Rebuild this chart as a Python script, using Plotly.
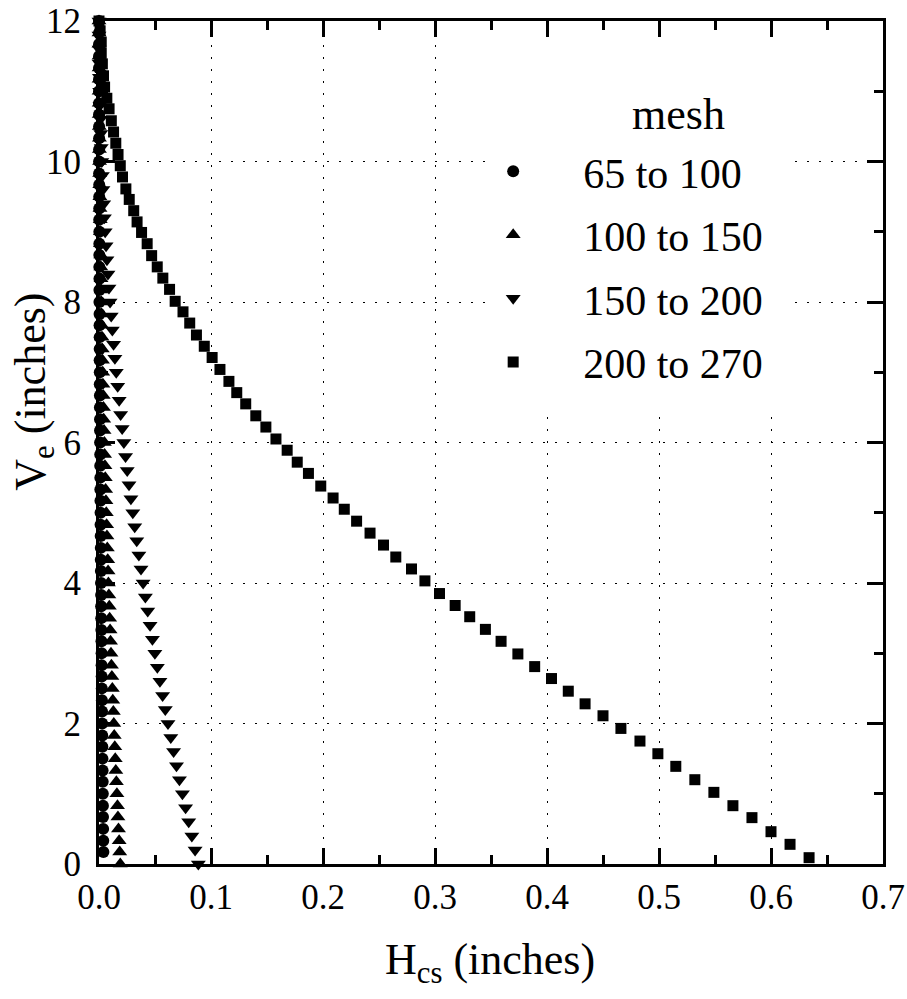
import plotly.graph_objects as go

# ---------------- data ----------------
circ_V = [0.17,0.33,0.50,0.67,0.83,1.00,1.17,1.33,1.50,1.67,1.83,2.00,2.17,2.33,2.50,2.67,2.83,3.00,
          3.17,3.33,3.50,3.67,3.83,4.00,4.17,4.33,4.50,4.67,4.83,5.00,5.17,5.33,5.50,5.67,5.83,6.00,
          6.17,6.33,6.50,6.67,6.83,7.00,7.17,7.33,7.50,7.67,7.83,8.00,8.17,8.33,8.50,8.67,8.83,9.00,
          9.17,9.33,9.50,9.67,9.83,10.00,10.17,10.33,10.50,10.67,10.83,11.00,11.17,11.33,11.50,11.67,11.83,12.00]
circ_H = [0.0039,0.0038,0.0037,0.0036,0.0035,0.0034,0.0033,0.0032,0.0031,0.0030,
          0.0029,0.0028,0.0027,0.0026,0.0025,0.0024,0.0023,0.0023,0.0022,0.0021,
          0.0020,0.0019,0.0019,0.0018,0.0017,0.0016,0.0016,0.0015,0.0014,0.0014,
          0.0013,0.0012,0.0012,0.0011,0.0011,0.0010,0.0009,0.0009,0.0008,0.0008,
          0.0007,0.0007,0.0006,0.0006,0.0006,0.0005,0.0005,0.0004,0.0004,0.0004,
          0.0003,0.0003,0.0003,0.0003,0.0002,0.0002,0.0002,0.0002,0.0001,0.0001,
          0.0001,0.0001,0.0001,0.0,0.0,0.0,0.0,0.0,0.0,0.0,0.0,0.0]

tu_V = [0.00,0.17,0.33,0.50,0.67,0.83,1.00,1.17,1.33,1.50,1.67,1.83,2.00,2.17,2.33,2.50,2.67,2.83,3.00,
        3.17,3.33,3.50,3.67,3.83,4.00,4.17,4.33,4.50,4.67,4.83,5.00,5.17,5.33,5.50,5.67,5.83,6.00,
        6.17,6.33,6.50,6.67,6.83,7.00,7.17,7.33,7.50,7.67,7.83,8.00,8.17,8.33,8.50,8.67,8.83,9.00,
        9.17,9.33,9.50,9.67,9.83,10.00,10.17,10.33,10.50,10.67,10.83,11.00,11.17,11.33,11.50,11.67,11.83,12.00]
tu_H = [0.0190,0.0185,0.0180,0.0174,0.0169,0.0165,0.0160,0.0155,0.0150,0.0145,
        0.0141,0.0136,0.0132,0.0128,0.0123,0.0119,0.0115,0.0111,0.0107,0.0103,
        0.0099,0.0095,0.0092,0.0088,0.0084,0.0081,0.0078,0.0074,0.0071,0.0068,
        0.0065,0.0062,0.0059,0.0056,0.0053,0.0050,0.0048,0.0045,0.0042,0.0040,
        0.0038,0.0035,0.0033,0.0031,0.0029,0.0027,0.0025,0.0023,0.0021,0.0019,
        0.0018,0.0016,0.0015,0.0013,0.0012,0.0011,0.0009,0.0008,0.0007,0.0006,
        0.0005,0.0004,0.0004,0.0003,0.0002,0.0002,0.0001,0.0001,0.0001,0.0000,
        0.0000,0.0000,0.0000]

td_V = [0.0,0.2,0.4,0.6,0.8,1.0,1.2,1.4,1.6,1.8,2.0,2.2,2.4,2.6,2.8,3.0,3.2,3.4,3.6,3.8,
        4.0,4.2,4.4,4.6,4.8,5.0,5.2,5.4,5.6,5.8,6.0,6.2,6.4,6.6,6.8,7.0,7.2,7.4,7.6,7.8,
        8.0,8.2,8.4,8.6,8.8,9.0,9.2,9.4,9.6,9.8,10.0,10.2,10.4,10.6,10.8,11.0,11.2,11.4,11.6,11.8,12.0]
td_H = [0.0887,0.0858,0.0829,0.0801,0.0773,0.0745,0.0718,0.0692,0.0666,0.0641,
        0.0616,0.0592,0.0568,0.0544,0.0521,0.0499,0.0477,0.0456,0.0435,0.0414,
        0.0394,0.0375,0.0356,0.0337,0.0319,0.0302,0.0285,0.0268,0.0252,0.0237,
        0.0222,0.0207,0.0193,0.0180,0.0167,0.0154,0.0142,0.0130,0.0119,0.0109,
        0.0099,0.0089,0.0080,0.0071,0.0063,0.0055,0.0048,0.0042,0.0035,0.0030,
        0.0025,0.0020,0.0016,0.0012,0.0009,0.0006,0.0004,0.0002,0.0001,0.0000,0.0000]

sq_V = [12.00,11.86,11.70,11.54,11.39,11.22,11.06,10.90,10.75,10.58,10.42,10.26,10.10,9.94,9.78,
        9.61,9.46,9.30,9.14,8.99,8.83,8.66,8.50,8.34,8.18,8.01,7.86,7.70,7.53,7.37,7.21,7.04,
        6.87,6.71,6.55,6.38,6.22,6.05,5.89,5.72,5.56,5.38,5.21,5.05,4.88,4.71,4.54,4.37,4.20,
        4.03,3.85,3.68,3.52,3.34,3.17,2.99,2.81,2.64,2.46,2.28,2.11,1.93,1.75,1.57,1.39,1.20,
        1.02,0.83,0.66,0.46,0.28,0.09]
sq_H = [0.000,0.001,0.002,0.002,0.003,0.004,0.005,0.007,0.009,0.011,0.013,0.015,0.017,0.019,
        0.021,0.024,0.027,0.031,0.034,0.038,0.043,0.047,0.052,0.057,0.063,0.068,0.075,0.081,
        0.087,0.094,0.101,0.108,0.116,0.123,0.131,0.140,0.149,0.158,0.168,0.177,0.187,0.198,
        0.209,0.219,0.230,0.242,0.254,0.265,0.279,0.291,0.304,0.318,0.331,0.345,0.359,0.374,
        0.389,0.404,0.419,0.434,0.450,0.466,0.483,0.499,0.515,0.532,0.549,0.566,0.583,0.600,
        0.617,0.634]

series_names = ["65 to 100", "100 to 150", "150 to 200", "200 to 270"]
legend_title = "mesh"
x_title = "H<sub>cs</sub> (inches)"
y_title = "V<sub>e</sub> (inches)"

FONT = "Liberation Serif"

fig = go.Figure()
specs = [
    (circ_H, circ_V, "circle", 12),
    (tu_H, tu_V, "triangle-up", 13),
    (td_H, td_V, "triangle-down", 13),
    (sq_H, sq_V, "square", 11),
]
for i, (xs, ys, sym, sz) in enumerate(specs):
    fig.add_trace(go.Scatter(
        x=xs, y=ys, mode="markers", name=series_names[i],
        legendgroup=f"g{i}", cliponaxis=False,
        marker=dict(symbol=sym, size=sz, color="black", line=dict(width=0)),
    ))

# white box behind the legend that hides the grid
fig.add_shape(type="rect", xref="x", yref="y", x0=0.345, x1=0.62, y0=6.4, y1=12,
              fillcolor="white", line=dict(width=0), layer="between")

axis_common = dict(
    showline=True, linewidth=3, linecolor="black", mirror="allticks",
    ticks="inside", ticklen=16, tickwidth=2.5, tickcolor="black",
    showgrid=True, gridcolor="black", gridwidth=1.3, griddash="2px,10px",
    zeroline=False, automargin=False,
    tickfont=dict(family=FONT, size=35, color="black"),
)

fig.update_xaxes(range=[0, 0.7], dtick=0.1, tick0=0, tickformat=".1f",
                 ticklabelstandoff=0,
                 minor=dict(dtick=0.05, ticks="inside", ticklen=9, tickwidth=2.5,
                            tickcolor="black", showgrid=False),
                 **axis_common)
fig.update_yaxes(range=[0, 12], dtick=2, tick0=0,
                 ticklabelstandoff=8,
                 minor=dict(dtick=1, ticks="inside", ticklen=9, tickwidth=2.5,
                            tickcolor="black", showgrid=False),
                 **axis_common)

fig.add_annotation(text=x_title, xref="paper", yref="paper", x=0.499, y=-0.117,
                   xanchor="center", yanchor="middle", showarrow=False,
                   font=dict(family=FONT, size=44, color="black"))
fig.add_annotation(text=y_title, xref="paper", yref="paper", x=-0.084, y=0.5604,
                   xanchor="center", yanchor="middle", showarrow=False, textangle=-90,
                   font=dict(family=FONT, size=44, color="black"))
# legend heading
fig.add_annotation(text=legend_title, xref="paper", yref="paper", x=0.739, y=0.8889,
                   xanchor="center", yanchor="middle", showarrow=False,
                   font=dict(family=FONT, size=44, color="black"))

fig.update_layout(
    width=907, height=999,
    font=dict(family=FONT, color="black"),
    margin=dict(l=99, r=24, t=21, b=135, pad=0),
    paper_bgcolor="white", plot_bgcolor="white",
    showlegend=True,
    legend=dict(
        x=0.439, y=0.862, xanchor="left", yanchor="top",
        bgcolor="rgba(0,0,0,0)", borderwidth=0,
        font=dict(family=FONT, size=42, color="black"),
        itemwidth=130, tracegroupgap=6, itemsizing="trace",
    ),
)

fig.write_html("out.html")
